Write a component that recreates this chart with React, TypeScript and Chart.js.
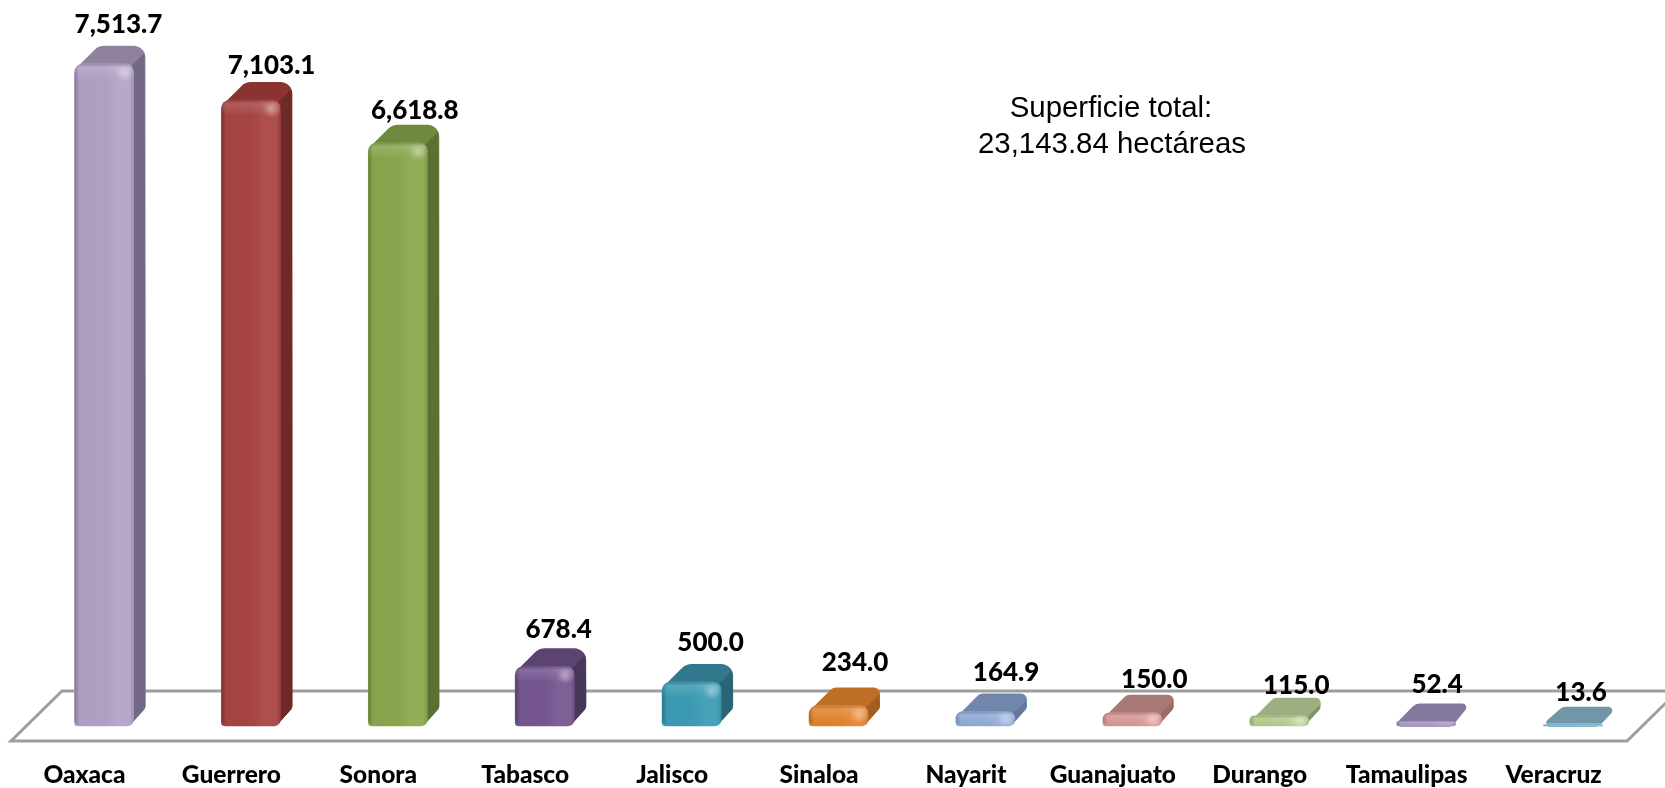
import React, { useEffect, useRef } from "react";
import { Chart, registerables } from "chart.js";

Chart.register(...registerables);

const categories = ["Oaxaca", "Guerrero", "Sonora", "Tabasco", "Jalisco", "Sinaloa", "Nayarit", "Guanajuato", "Durango", "Tamaulipas", "Veracruz"];
const hectares = [7513.7, 7103.1, 6618.8, 678.4, 500.0, 234.0, 164.9, 150.0, 115.0, 52.4, 13.6];
const noteLines = ["Superficie total:", "23,143.84 hectáreas"];

const frontColors = ["#B3A2C7", "#A94543", "#8BA94F", "#775792", "#3C9DB5", "#E5842E", "#8FAAD7", "#D99694", "#B5CB8C", "#A898C2", "#7FB9CC"];
const sideColors = ["#736885", "#6D2A29", "#5C7033", "#47375A", "#2A6577", "#A55E20", "#64789B", "#9C6A69", "#7F9264", "#75698C", "#5C8899"];
const topColors = ["#8F829F", "#8A3331", "#6F8A3E", "#5B4570", "#32788C", "#BF6E27", "#7086AA", "#A87876", "#9BAF80", "#85789E", "#6F97A6"];

// nudges of the value labels from the top of each front face, as placed by hand in the original
const labelDx = [14.5, 20.7, 17, 14, 19, 16.5, 20.7, 22, 17, 11, 8];
const labelDy = [-39, -34, -32, -37, -39, -43, -38.5, -33, -30, -37, -32];

const BAR_SHIFT = 19.5;
const DEPTH_X = 12;
const DEPTH_Y = 18;
const FLOOR_DROP = 15;
const FLOOR_BACK = 35;

type P = [number, number];

function roundedPoly(ctx: CanvasRenderingContext2D, pts: P[], radii: number[]) {
  const n = pts.length;
  const a = pts[n - 1];
  const b = pts[0];
  ctx.beginPath();
  ctx.moveTo((a[0] + b[0]) / 2, (a[1] + b[1]) / 2);
  for (let i = 0; i < n; i++) {
    const cur = pts[i];
    const prev = pts[(i + n - 1) % n];
    const next = pts[(i + 1) % n];
    const v1 = [prev[0] - cur[0], prev[1] - cur[1]];
    const v2 = [next[0] - cur[0], next[1] - cur[1]];
    const l1 = Math.hypot(v1[0], v1[1]);
    const l2 = Math.hypot(v2[0], v2[1]);
    const ang = Math.acos(Math.max(-1, Math.min(1, (v1[0] * v2[0] + v1[1] * v2[1]) / (l1 * l2 || 1))));
    const maxR = (Math.min(l1, l2) / 2) * Math.tan(ang / 2);
    ctx.arcTo(cur[0], cur[1], next[0], next[1], Math.min(radii[i], maxR));
  }
  ctx.closePath();
}

function silhouette(ctx: CanvasRenderingContext2D, L: number, R: number, t: number, b: number) {
  const h = b - t;
  const back = t - DEPTH_Y;
  if (h < 6) {
    roundedPoly(
      ctx,
      [[L - 4, b + 1], [L + 19, back], [R + DEPTH_X + 3, back], [R - 4, b + 1]],
      [4, 10, 4, 10]
    );
  } else {
    const r = h > 40 ? 14 : 8;
    roundedPoly(
      ctx,
      [[L, b], [L, t + Math.min(6, h * 0.6)], [L + 24, back], [R + DEPTH_X, back], [R + DEPTH_X, b - DEPTH_Y], [R - 4, b]],
      [4, r, r, r - 2, 5, 8]
    );
  }
}

const bars3d = {
  id: "bars3d",
  beforeDatasetsDraw(chart: any) {
    const { ctx, chartArea, scales } = chart;
    const y0 = scales.y.getPixelForValue(0) + FLOOR_DROP;
    const left = chartArea.left;
    const right = chartArea.right;
    ctx.save();
    ctx.strokeStyle = "#9E9E9E";
    ctx.lineWidth = 3;
    ctx.lineJoin = "miter";
    ctx.beginPath();
    ctx.moveTo(left, y0);
    ctx.lineTo(left + FLOOR_BACK + 16, y0 - FLOOR_BACK - FLOOR_DROP);
    ctx.lineTo(right + FLOOR_BACK + 16, y0 - FLOOR_BACK - FLOOR_DROP);
    ctx.lineTo(right, y0);
    ctx.closePath();
    ctx.stroke();
    ctx.restore();
  },
  beforeDatasetDraw(chart: any) {
    const { ctx } = chart;
    const meta = chart.getDatasetMeta(0);
    ctx.save();
    ctx.translate(BAR_SHIFT, 0);
    meta.data.forEach((el: any, i: number) => {
      const L = el.x - el.width / 2;
      const R = el.x + el.width / 2;
      const t = el.y;
      const b = el.base;
      const h = b - t;
      ctx.save();
      silhouette(ctx, L, R, t, b);
      ctx.fillStyle = topColors[i];
      ctx.fill();
      ctx.clip();
      if (h > 6) {
        // right-hand face
        ctx.beginPath();
        ctx.moveTo(R - 3, t + 3);
        ctx.lineTo(R + DEPTH_X - 1, t - DEPTH_Y + 7);
        ctx.lineTo(R + DEPTH_X + 2, b);
        ctx.lineTo(R - 3, b + 2);
        ctx.closePath();
        ctx.fillStyle = sideColors[i];
        ctx.fill();
      } else {
        // lit lower rim of the flattest bars
        ctx.fillStyle = frontColors[i];
        ctx.fillRect(L - 6, b - 3, R - L + 12, 6);
      }
      ctx.restore();
    });
  },
  afterDatasetDraw(chart: any) {
    const { ctx } = chart;
    const meta = chart.getDatasetMeta(0);
    meta.data.forEach((el: any) => {
      const L = el.x - el.width / 2;
      const R = el.x + el.width / 2;
      const t = el.y;
      const b = el.base;
      const h = b - t;
      const w = R - L;
      ctx.save();
      ctx.beginPath();
      ctx.roundRect(L, t, w, h, [Math.min(9, h / 2), Math.min(8, h / 2), Math.min(4, h / 2), Math.min(7, h / 2)]);
      ctx.clip();
      const g = ctx.createLinearGradient(L, 0, R, 0);
      g.addColorStop(0, "rgba(0,0,0,0.28)");
      g.addColorStop(0.08, "rgba(0,0,0,0.03)");
      g.addColorStop(0.45, "rgba(0,0,0,0.02)");
      g.addColorStop(0.72, "rgba(255,255,255,0.06)");
      g.addColorStop(0.92, "rgba(255,255,255,0.05)");
      g.addColorStop(1, "rgba(0,0,0,0.12)");
      ctx.fillStyle = g;
      ctx.fillRect(L, t, w, h);
      const bevel = Math.min(16, h);
      const v = ctx.createLinearGradient(0, t, 0, t + bevel);
      v.addColorStop(0, "rgba(40,30,50,0.18)");
      v.addColorStop(0.25, "rgba(255,255,255,0.14)");
      v.addColorStop(1, "rgba(255,255,255,0)");
      ctx.fillStyle = v;
      ctx.fillRect(L, t, w, bevel);
      if (h > 8) {
        const hx = R - 9;
        const hy = t + Math.min(9, h / 2);
        const spot = ctx.createRadialGradient(hx, hy, 0, hx, hy, 9);
        spot.addColorStop(0, "rgba(255,255,255,0.38)");
        spot.addColorStop(1, "rgba(255,255,255,0)");
        ctx.fillStyle = spot;
        ctx.fillRect(hx - 9, hy - 9, 18, 18);
      }
      ctx.restore();
    });
    ctx.restore();
    // value labels
    ctx.save();
    ctx.font = "900 26px Lato";
    ctx.fillStyle = "#000";
    ctx.textAlign = "center";
    ctx.textBaseline = "middle";
    meta.data.forEach((el: any, i: number) => {
      const txt = hectares[i].toLocaleString("en-US", { minimumFractionDigits: 1, maximumFractionDigits: 1 });
      ctx.fillText(txt, el.x + BAR_SHIFT + labelDx[i], el.y + labelDy[i]);
    });
    // note
    ctx.font = "29.4px 'Liberation Sans'";
    ctx.fillText(noteLines[0], 1111, 109);
    ctx.fillText(noteLines[1], 1112, 145);
    ctx.restore();
  },
};

export default function App() {
  const ref = useRef<HTMLCanvasElement | null>(null);
  useEffect(() => {
    if (!ref.current) return;
    const chart = new Chart(ref.current, {
      type: "bar",
      data: {
        labels: categories,
        datasets: [
          {
            data: hectares,
            backgroundColor: frontColors,
            borderWidth: 0,
            barThickness: 59,
            borderRadius: { topLeft: 9, topRight: 8, bottomLeft: 4, bottomRight: 7 },
            borderSkipped: false,
            clip: false,
          } as any,
        ],
      },
      options: {
        responsive: false,
        animation: false,
        devicePixelRatio: 1,
        layout: { padding: { left: 11, right: 38, top: 21, bottom: 0 } },
        plugins: { legend: { display: false }, tooltip: { enabled: false }, title: { display: false } },
        scales: {
          x: {
            offset: true,
            grid: { display: false, drawTicks: false },
            border: { display: false },
            afterFit(scale: any) {
              scale.height = 62;
            },
            ticks: {
              autoSkip: false,
              maxRotation: 0,
              minRotation: 0,
              padding: 37,
              color: "#000",
              font: { family: "Lato", weight: "900", size: 24.5, lineHeight: 1 },
            },
          },
          y: { display: false, min: 0, max: 8000 },
        },
      },
      plugins: [bars3d as any],
    });
    return () => chart.destroy();
  }, []);
  return (
    <div style={{ position: "absolute", left: 0, top: 0, width: 1665, height: 788, background: "#fff" }}>
      <canvas ref={ref} width={1665} height={788} style={{ display: "block" }} />
    </div>
  );
}
